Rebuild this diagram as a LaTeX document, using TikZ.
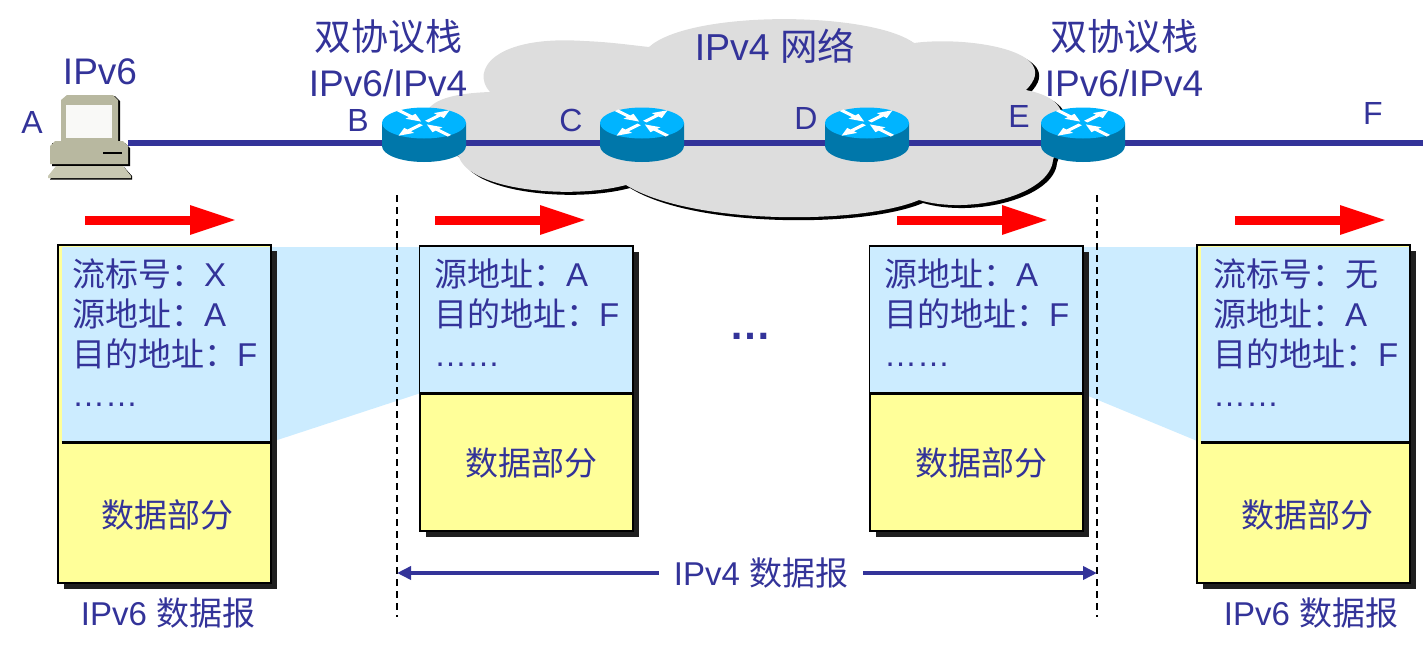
\documentclass[tikz,border=0pt]{standalone}
\usepackage{fontspec}
\usepackage{xcolor}
\usepackage{tikz}
\usetikzlibrary{arrows.meta,backgrounds,shadows}
\setmainfont{Liberation Sans}
\newfontfamily\cjk{Noto Sans CJK SC}
\definecolor{ink}{RGB}{51,51,153}
\definecolor{cloudgray}{RGB}{221,221,221}
\definecolor{hdrblue}{RGB}{204,236,255}
\definecolor{pktyellow}{RGB}{255,255,153}
\definecolor{rtrtop}{RGB}{0,180,255}
\definecolor{rtrside}{RGB}{0,119,170}
\definecolor{pcbody}{RGB}{184,184,160}
\definecolor{pclight}{RGB}{200,200,178}
\newcommand{\cloudshape}{(649,47) .. controls (690,10) and (870,11) .. (914,43)
  .. controls (965,36) and (1066,50) .. (1026,90)
  .. controls (1075,100) and (1065,125) .. (1053,160)
  .. controls (1050,195) and (970,215) .. (919,200)
  .. controls (860,225) and (690,225) .. (626,185)
  .. controls (570,200) and (470,190) .. (459,157)
  .. controls (420,130) and (400,95) .. (490,92)
  .. controls (470,70) and (495,35) .. (584,41)
  .. controls (610,42) and (630,45) .. (649,47) -- cycle}
\newcommand{\rtrarrow}{(0,-2.4) -- (17,-2.4) -- (17,-7) -- (32,0) -- (17,7) -- (17,2.4) -- (0,2.4) -- cycle}

\begin{document}
\begin{tikzpicture}[x=1pt,y=-1pt,
    lbl/.style={text=ink,inner sep=0pt,font=\fontsize{32}{32}\selectfont},
    big/.style={text=ink,inner sep=0pt,align=center,font=\fontsize{37}{46}\selectfont},
    body/.style={text=ink,inner sep=0pt,align=left,anchor=north west,font=\fontsize{33}{40}\selectfont},
    captxt/.style={text=ink,inner sep=0pt,font=\fontsize{33}{33}\selectfont},
    pkt/.style={draw=black,line width=2.4pt,fill=pktyellow,anchor=north west,inner sep=0pt,minimum width=213pt,
      drop shadow={shadow xshift=6pt,shadow yshift=-6pt,fill=black!88,opacity=1}},
    hdr/.style={fill=hdrblue,anchor=north east,inner sep=0pt},
    divider/.style={black,line width=2.4pt},
    wire/.style={ink,line width=5.4pt},
    flow/.style={red,line width=9pt,-{Triangle[length=47pt,width=27pt]}},
    dim/.style={ink,line width=3.6pt,-{Triangle[length=14pt,width=13pt]}},
    cut/.style={black,line width=2pt,dash pattern=on 7pt off 5pt},
    hub/.style={inner sep=0pt,minimum width=84pt,minimum height=56pt},
    router/.pic={
      \fill[rtrside] (-42,-20) -- (42,-20) -- (42,3) arc[start angle=0,end angle=-180,x radius=42,y radius=-16] -- cycle;
      \fill[rtrtop] (0,-20) ellipse[x radius=42,y radius=15.5];
      \foreach \a in {45,225}
        \fill[white,yscale=.5,shift={(0,-40)},rotate=\a,shift={(4,0)}] \rtrarrow;
      \foreach \a in {135,315}
        \fill[white,yscale=.5,shift={(0,-40)},rotate=\a,shift={(36,0)},rotate=180] \rtrarrow;
    }]
  \useasboundingbox (0,0) rectangle (1428,654);

  % cloud
  \fill[black,shift={(4,3)}] \cloudshape;
  \fill[cloudgray] \cloudshape;

  % host, routers and the line through them
  \node[inner sep=0pt,minimum width=84pt,minimum height=84pt] (hostA) at (86,143) {};
  \node[hub] (rtrB) at (424,143) {};
  \node[hub] (rtrC) at (642,143) {};
  \node[hub] (rtrD) at (867,143) {};
  \node[hub] (rtrE) at (1083,143) {};
  \coordinate (endF) at (1423,143);
  \draw[wire] (hostA.east) -- (rtrB) -- (rtrC) -- (rtrD) -- (rtrE) -- (endF);
  \foreach \x in {424,642,867,1083}
    \pic at (\x,143) {router};

  % host drawing
  \fill[black] (66,96) -- (115,96) -- (120,101) -- (120,142) -- (64,142) -- cycle;
  \fill[pcbody] (67,95) -- (113,95) -- (118,100) -- (118,141) -- (61,141) -- (61,100) -- cycle;
  \fill[white!92!pcbody] (66,105) rectangle (112,138);
  \fill[black] (52,143) -- (125,143) -- (130,148) -- (130,166) -- (52,166) -- cycle;
  \fill[pcbody] (50,146) -- (55,141) -- (123,141) -- (128,146) -- (128,164) -- (50,164) -- cycle;
  \fill[black] (103,152) rectangle (122,153.5);
  \fill[black] (50,179.5) -- (132,179.5) -- (132,176) -- (124,167) -- (58,167) -- cycle;
  \fill[pclight] (48,176) -- (56,166) -- (123,166) -- (131,176) -- (131,178) -- (48,178) -- cycle;

  % station labels
  \node[lbl] (lblA) at (32,122) {A};
  \node[lbl] (lblB) at (358,120) {B};
  \node[lbl] (lblC) at (571,120) {C};
  \node[lbl] (lblD) at (806,118) {D};
  \node[lbl] (lblE) at (1019,116) {E};
  \node[lbl] (lblF) at (1373,113) {F};
  \node[big,font=\fontsize{37}{37}\selectfont] (v6host) at (100,72) {IPv6};
  \node[big] (stackB) at (388,58) {{\cjk 双协议栈}\\IPv6/IPv4};
  \node[big] (stackE) at (1124,58) {{\cjk 双协议栈}\\IPv6/IPv4};
  \node[big,font=\fontsize{37.5}{37.5}\selectfont] (v4net) at (775,46) {IPv4 {\cjk 网络}};

  % direction arrows
  \foreach \n/\x in {a/85,b/435,c/897,d/1235}{
    \coordinate (flow\n s) at (\x,220);
    \coordinate (flow\n e) at (\x+152,220);
    \draw[flow] (flow\n s) -- (flow\n e);
  }

  % packets
  \node[pkt,minimum height=338pt] (pktA) at (56.5,244) {};
  \node[pkt,minimum height=285pt] (pktB) at (419,245) {};
  \node[pkt,minimum height=285pt] (pktC) at (869,245) {};
  \node[pkt,minimum height=338pt] (pktD) at (1196,244) {};
  \node[hdr,minimum width=208pt,minimum height=195pt] (hdrA) at (270,247) {};
  \node[hdr,minimum width=212pt,minimum height=146pt] (hdrB) at (632,247) {};
  \node[hdr,minimum width=212pt,minimum height=146pt] (hdrC) at (1082,247) {};
  \node[hdr,minimum width=208pt,minimum height=195pt] (hdrD) at (1409,247) {};
  \draw[divider] (hdrA.south west) -- (hdrA.south east);
  \draw[divider] (hdrB.south west) -- (hdrB.south east);
  \draw[divider] (hdrC.south west) -- (hdrC.south east);
  \draw[divider] (hdrD.south west) -- (hdrD.south east);
  \begin{pgfonlayer}{background}
    \fill[hdrblue] (hdrA.north east) -- (hdrB.north west) -- (hdrB.south west) -- (hdrA.south east) -- cycle;
    \fill[hdrblue] (hdrC.north east) -- (hdrD.north west) -- (hdrD.south west) -- (hdrC.south east) -- cycle;
  \end{pgfonlayer}

  \node[body] (txtA) at (72,259) {{\cjk 流标号：}X\\{\cjk 源地址：}A\\{\cjk 目的地址：}F\\……};
  \node[body] (txtB) at (434,259) {{\cjk 源地址：}A\\{\cjk 目的地址：}F\\……};
  \node[body] (txtC) at (884,259) {{\cjk 源地址：}A\\{\cjk 目的地址：}F\\……};
  \node[body] (txtD) at (1213,259) {{\cjk 流标号：无}\\{\cjk 源地址：}A\\{\cjk 目的地址：}F\\……};
  \node[captxt] (dataA) at (167,515) {\cjk 数据部分};
  \node[captxt] (dataB) at (531,463) {\cjk 数据部分};
  \node[captxt] (dataC) at (981,463) {\cjk 数据部分};
  \node[captxt] (dataD) at (1307,515) {\cjk 数据部分};
  \node[text=ink,inner sep=0pt,font=\fontsize{42}{42}\selectfont\bfseries] (more) at (750,336) {…};
  \node[captxt] (capA) at (168,613) {IPv6 {\cjk 数据报}};
  \node[captxt] (capD) at (1311,613) {IPv6 {\cjk 数据报}};

  % tunnel limits
  \coordinate (cutBt) at (397,195);
  \coordinate (cutBb) at (397,617);
  \coordinate (cutEt) at (1097,195);
  \coordinate (cutEb) at (1097,617);
  \draw[cut] (cutBt) -- (cutBb);
  \draw[cut] (cutEt) -- (cutEb);
  \coordinate (spanL) at (397,573);
  \coordinate (spanR) at (1097,573);
  \node[captxt,inner xsep=15pt] (span) at (761,573) {IPv4 {\cjk 数据报}};
  \draw[dim] (span.west) -- (spanL);
  \draw[dim] (span.east) -- (spanR);
\end{tikzpicture}
\end{document}
